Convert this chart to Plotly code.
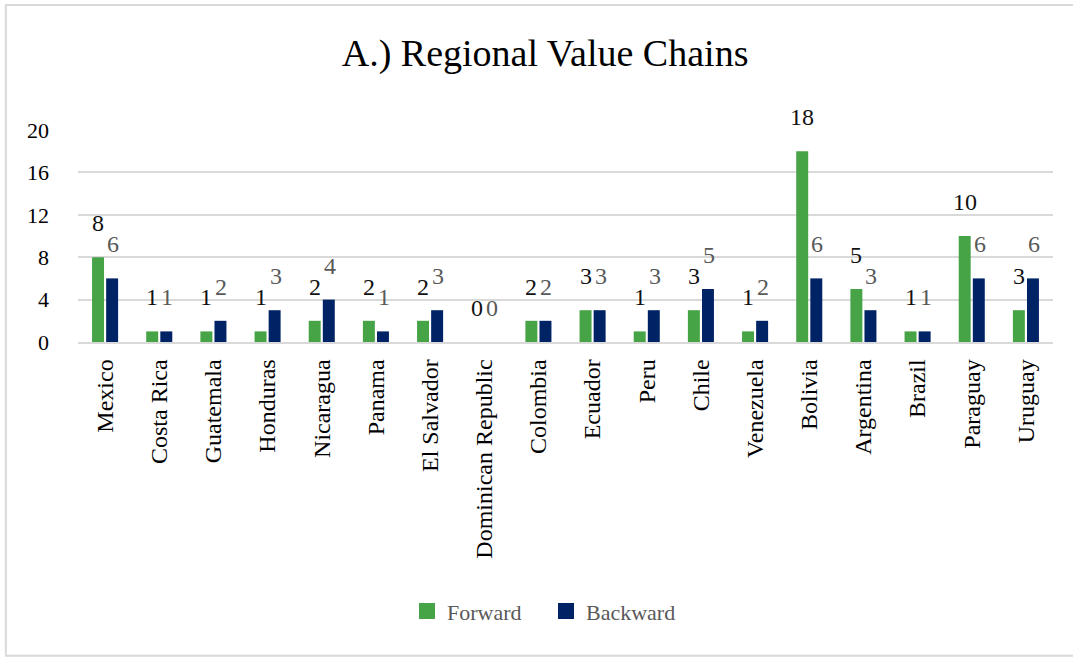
import plotly.graph_objects as go

# Datos
countries = ["Mexico", "Costa Rica", "Guatemala", "Honduras", "Nicaragua", "Panama",
             "El Salvador", "Dominican Republic", "Colombia", "Ecuador", "Peru", "Chile",
             "Venezuela", "Bolivia", "Argentina", "Brazil", "Paraguay", "Uruguay"]
forward = [8, 1, 1, 1, 2, 2, 2, 0, 2, 3, 1, 3, 1, 18, 5, 1, 10, 3]
backward = [6, 1, 2, 3, 4, 1, 3, 0, 2, 3, 3, 5, 2, 6, 3, 1, 6, 6]
y_ticks = [0, 4, 8, 12, 16, 20]

C_GREEN = "#46a346"
C_NAVY = "#002366"
FONT = "Liberation Serif, Times New Roman, serif"

fig = go.Figure()
fig.add_trace(go.Bar(x=countries, y=forward, name="Forward", showlegend=False,
                     marker=dict(color=C_GREEN, line=dict(width=0))))
fig.add_trace(go.Bar(x=countries, y=backward, name="Backward", showlegend=False,
                     marker=dict(color=C_NAVY, line=dict(width=0))))

# Entradas de leyenda con cuadrados grandes
for name, col in [("Forward", C_GREEN), ("Backward", C_NAVY)]:
    fig.add_trace(go.Scatter(x=[None], y=[None], mode="markers", name=name,
                             marker=dict(symbol="square", size=18, color=col)))

# Etiquetas de datos (desplazadas por encima de cada barra)
for c, f, b in zip(countries, forward, backward):
    fig.add_annotation(x=c, y=f, text=str(f), showarrow=False, xshift=-7, yshift=34,
                       font=dict(family=FONT, size=24, color="#111111"))
    fig.add_annotation(x=c, y=b, text=str(b), showarrow=False, xshift=8, yshift=34,
                       font=dict(family=FONT, size=24, color="#595959"))

# Marco exterior
fig.add_shape(type="rect", xref="paper", yref="paper",
              x0=-0.074, x1=1.1, y0=-1.48, y1=1.59,
              line=dict(color="#d9d9d9", width=2), layer="below")

fig.update_layout(
    width=1073, height=658,
    paper_bgcolor="white", plot_bgcolor="white",
    font=dict(family=FONT, size=20, color="#000000"),
    title=dict(text="A.) Regional Value Chains", x=0.508, xanchor="center",
               y=0.92, yanchor="middle", font=dict(family=FONT, size=38, color="#000000")),
    barmode="group", bargap=0.48, bargroupgap=0.15,
    margin=dict(l=78, r=20, t=130, b=316),
    showlegend=True,
    legend=dict(orientation="h", x=0.48, xanchor="center", y=-1.27, yanchor="middle",
                font=dict(family=FONT, size=22, color="#595959"),
                itemwidth=30, entrywidth=94, traceorder="normal"),
    xaxis=dict(tickangle=-90, showgrid=False, showline=True, linecolor="#d9d9d9",
               linewidth=1.5, ticks="", ticklabelstandoff=6,
               tickfont=dict(family=FONT, size=24, color="#000000")),
    yaxis=dict(range=[0, 20], tickvals=y_ticks, showgrid=True, gridcolor="#d9d9d9",
               gridwidth=1.5, zeroline=False, showline=False, ticks="",
               ticklabelstandoff=28,
               tickfont=dict(family=FONT, size=22, color="#000000")),
)

fig.write_html("out.html", config={"displayModeBar": False},
               post_script="document.body.style.margin='0';")
